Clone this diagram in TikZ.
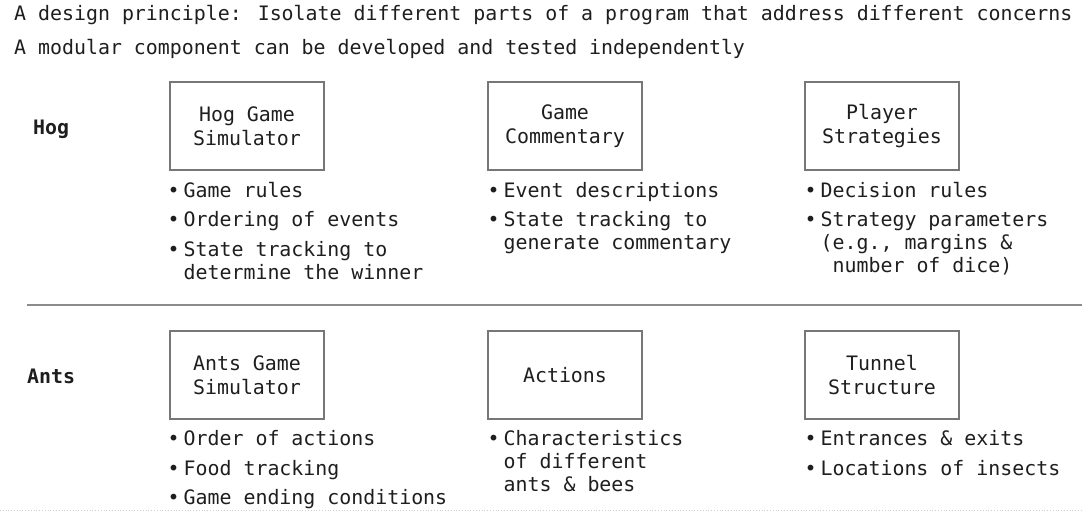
\documentclass[tikz,border=0pt]{standalone}
\usepackage{fontspec}
\setmainfont{DejaVu Sans Mono}
\usetikzlibrary{calc}

\definecolor{ink}{HTML}{1E1E1E}
\definecolor{boxgray}{HTML}{777777}
\definecolor{rulegray}{HTML}{8C8C8C}
\definecolor{dotgray}{HTML}{CFCFCF}

\tikzset{
  box/.style={draw=boxgray, line width=1.1pt, minimum width=154pt,
    minimum height=88pt, align=center, inner sep=0pt},
  txt/.style={anchor=base west, inner sep=0pt},
  rowname/.style={anchor=base west, inner sep=0pt, font=\fontsize{19.9}{24}\bfseries\selectfont},
}
\newcommand{\bul}{\llap{•\kern4pt}}

\begin{document}
\begin{tikzpicture}[x=1pt, y=-1pt, text=ink, font=\fontsize{19.9}{24}\selectfont]
  \useasboundingbox (0,0) rectangle (1082,519);

  % heading
  \node [txt] (head1) at (14,21) {A design principle: Isolate different parts of a program that address different concerns};
  \node [txt] (head2) at (14,55) {A modular component can be developed and tested independently};

  % Hog
  \node [rowname] (hog) at (33,134) {Hog};
  \node [box] (hogsim) at (247,126) {Hog Game\\Simulator};
  \node [box] (hogcom) at (565,126) {Game\\Commentary};
  \node [box] (hogstr) at (882,126) {Player\\Strategies};

  \node [txt] (hogsimA) at ($(hogsim.south west)+(14,27)$) {\bul Game rules};
  \node [txt] (hogsimB) at ($(hogsim.south west)+(14,56)$) {\bul Ordering of events};
  \node [txt] (hogsimC) at ($(hogsim.south west)+(14,86)$) {\bul State tracking to};
  \node [txt] (hogsimD) at ($(hogsim.south west)+(14,109)$) {determine the winner};

  \node [txt] (hogcomA) at ($(hogcom.south west)+(16,27)$) {\bul Event descriptions};
  \node [txt] (hogcomB) at ($(hogcom.south west)+(16,56)$) {\bul State tracking to};
  \node [txt] (hogcomC) at ($(hogcom.south west)+(16,79)$) {generate commentary};

  \node [txt] (hogstrA) at ($(hogstr.south west)+(16,27)$) {\bul Decision rules};
  \node [txt] (hogstrB) at ($(hogstr.south west)+(16,56)$) {\bul Strategy parameters};
  \node [txt] (hogstrC) at ($(hogstr.south west)+(16,79)$) {(e.g., margins \&};
  \node [txt] (hogstrD) at ($(hogstr.south west)+(28,102)$) {number of dice)};

  % divider
  \coordinate (divL) at (27,305);
  \coordinate (divR) at (1082,305);
  \draw [rulegray, line width=1.2pt] (divL) -- (divR);

  % Ants
  \node [rowname] (ants) at (27,383) {Ants};
  \node [box] (antsim) at (247,375) {Ants Game\\Simulator};
  \node [box] (antact) at (565,375) {Actions};
  \node [box] (anttun) at (882,375) {Tunnel\\Structure};

  \node [txt] (antsimA) at ($(antsim.south west)+(14,26)$) {\bul Order of actions};
  \node [txt] (antsimB) at ($(antsim.south west)+(14,56)$) {\bul Food tracking};
  \node [txt] (antsimC) at ($(antsim.south west)+(14,85)$) {\bul Game ending conditions};

  \node [txt] (antactA) at ($(antact.south west)+(16,26)$) {\bul Characteristics};
  \node [txt] (antactB) at ($(antact.south west)+(16,49)$) {of different};
  \node [txt] (antactC) at ($(antact.south west)+(16,72)$) {ants \& bees};

  \node [txt] (anttunA) at ($(anttun.south west)+(16,26)$) {\bul Entrances \& exits};
  \node [txt] (anttunB) at ($(anttun.south west)+(16,56)$) {\bul Locations of insects};

  \coordinate (endL) at (0,510);
  \coordinate (endR) at (1082,510);
  \draw [dotgray, dotted, line width=0.8pt] (endL) -- (endR);
\end{tikzpicture}
\end{document}
